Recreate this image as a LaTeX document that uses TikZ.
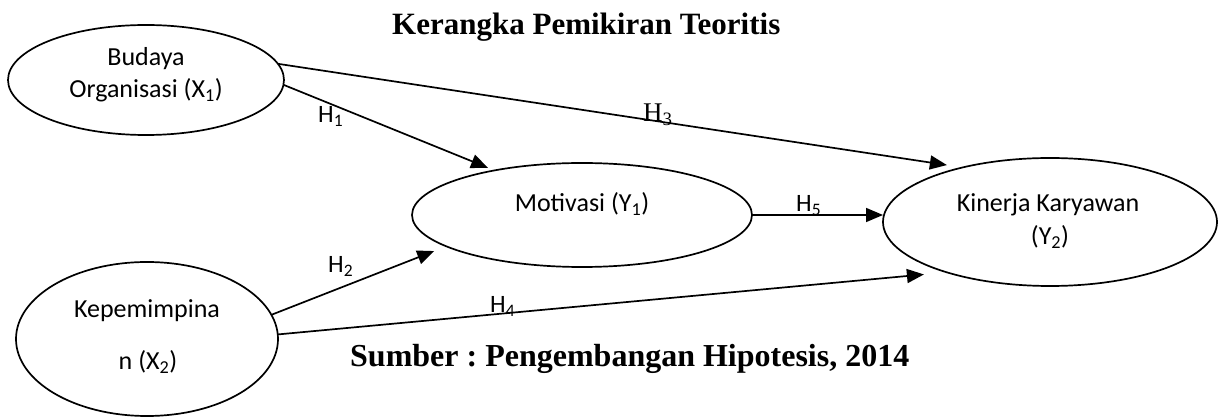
\documentclass[tikz,border=0pt]{standalone}
\usepackage{fontspec}
\setmainfont{Liberation Serif}
\newfontfamily\calfont{Carlito}
\usetikzlibrary{shapes.geometric,arrows.meta}
\frenchspacing
\begin{document}
\begin{tikzpicture}[x=1pt,y=-1pt,
  oval/.style={ellipse,draw,line width=1.7pt,inner sep=0pt,outer sep=0pt},
  lbl/.style={font=\calfont\fontsize{26}{32}\selectfont,inner sep=0pt,anchor=base},
  hyp/.style={font=\calfont\fontsize{25}{30}\selectfont,inner sep=0pt,anchor=base west},
  hypserif/.style={font=\fontsize{27}{32}\selectfont,inner sep=0pt,anchor=base west},
  ttl/.style={font=\bfseries\fontsize{31}{36}\selectfont,inner sep=0pt,anchor=base west},
  arr/.style={line width=1.7pt,-{Triangle[length=17pt,width=14pt]}}]
\path[fill=white,use as bounding box] (0,0) rectangle (1221,419);

% title and source line
\node[ttl] (title) at (392,35) {Kerangka Pemikiran Teoritis};
\node[ttl,font=\bfseries\fontsize{32}{36}\selectfont] (src) at (350,367) {Sumber : Pengembangan Hipotesis, 2014};

% variables
\node[oval,minimum width=276pt,minimum height=110pt] (x1) at (146,80) {};
\node[oval,minimum width=262pt,minimum height=154pt] (x2) at (147,339) {};
\node[oval,minimum width=340pt,minimum height=104pt] (mot) at (582,215) {};
\node[oval,minimum width=334pt,minimum height=128pt] (kin) at (1050,222) {};

\node[lbl] (x1a) at (146,66) {Budaya};
\node[lbl] (x1b) at (146,98) {Organisasi (X\textsubscript{1})};
\node[lbl] (x2a) at (147,318) {Kepemimpina};
\node[lbl] (x2b) at (148,370) {n (X\textsubscript{2})};
\node[lbl] (mota) at (582,212) {Motivasi (Y\textsubscript{1})};
\node[lbl] (kina) at (1048,212) {Kinerja Karyawan};
\node[lbl] (kinb) at (1050,245) {(Y\textsubscript{2})};

% hypotheses
\draw[arr,shorten >=16pt] (x1.7.65) -- (kin.148);
\draw[arr,shorten >=7pt] (x1.-2.95) -- (mot.153);
\draw[arr,shorten >=13pt] (x2.11.75) -- (mot.193.75);
\draw[arr,shorten >=23pt] (x2.2.5) -- (kin.206.6);
\draw[arr] (mot.east) -- (mot.east -| kin.west);

\node[hyp] (h1) at (318,123) {H\textsubscript{1}};
\node[hyp] (h2) at (328,273) {H\textsubscript{2}};
\node[hypserif] (h3) at (643,122) {H\textsubscript{3}};
\node[hyp] (h4) at (490,313) {H\textsubscript{4}};
\node[hyp] (h5) at (796,212) {H\textsubscript{5}};
\end{tikzpicture}
\end{document}
